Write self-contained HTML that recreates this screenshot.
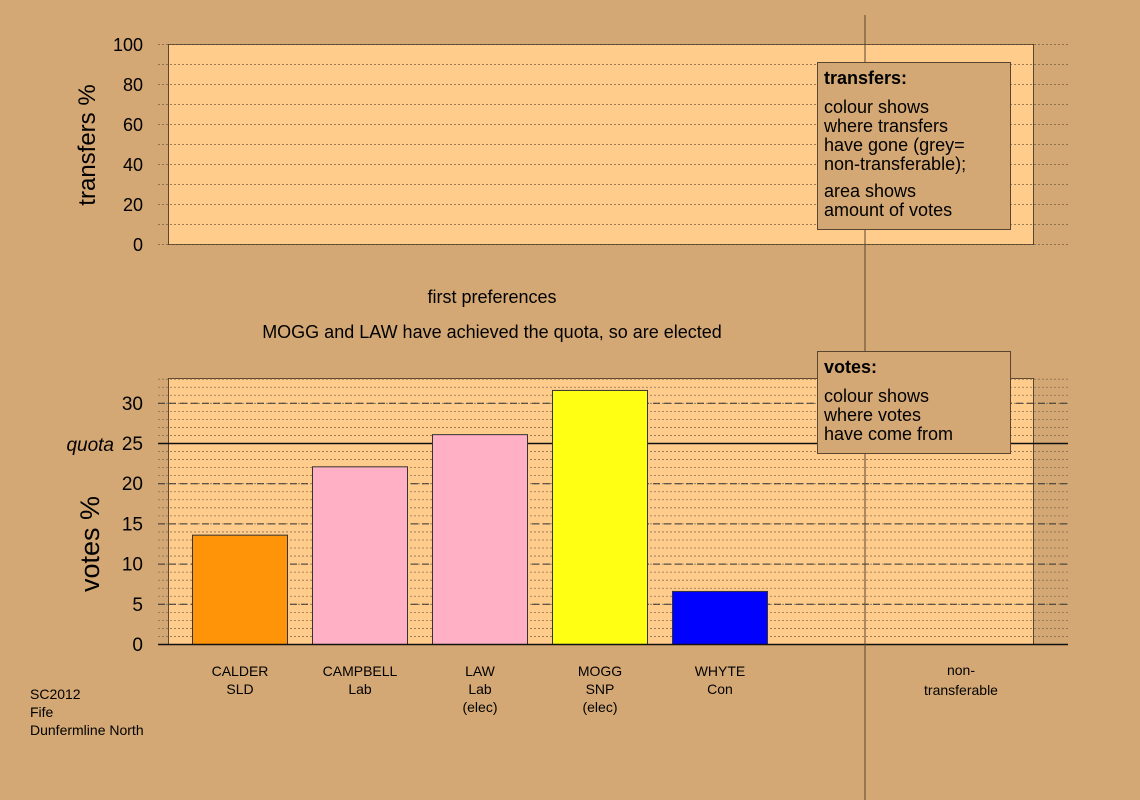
<!DOCTYPE html>
<html><head><meta charset="utf-8"><style>
body{margin:0;background:#d4a874;}
svg{display:block;font-family:"Liberation Sans",sans-serif;}
</style></head><body>
<svg width="1140" height="800" viewBox="0 0 1140 800">
<rect x="0" y="0" width="1140" height="800" fill="#d4a874"/>
<g id="topPanel"></g>
<g id="botPanel"></g>
<line x1="865" y1="15" x2="865" y2="800" stroke="#5a4630" stroke-width="1"/>
<g>
<rect x="817.5" y="62.5" width="193" height="167" fill="#d4a874" stroke="#5a4630"/>
<text x="824" y="84" font-size="18" font-weight="bold">transfers:</text>
<text font-size="18"><tspan x="824" y="113">colour shows</tspan><tspan x="824" y="132">where transfers</tspan><tspan x="824" y="151">have gone (grey=</tspan><tspan x="824" y="170">non-transferable);</tspan><tspan x="824" y="197">area shows</tspan><tspan x="824" y="216">amount of votes</tspan></text>
</g>
<g>
<rect x="817.5" y="351.5" width="193" height="102" fill="#d4a874" stroke="#5a4630"/>
<text x="824" y="373" font-size="18" font-weight="bold">votes:</text>
<text font-size="18"><tspan x="824" y="402">colour shows</tspan><tspan x="824" y="421">where votes</tspan><tspan x="824" y="440">have come from</tspan></text>
</g>
<text x="492" y="303" font-size="18" text-anchor="middle">first preferences</text>
<text x="492" y="338" font-size="18" text-anchor="middle">MOGG and LAW have achieved the quota, so are elected</text>
<text transform="translate(95,145) rotate(-90)" font-size="24" text-anchor="middle">transfers %</text>
<text transform="translate(99,544) rotate(-90)" font-size="27" text-anchor="middle">votes %</text>
<text x="114" y="451" font-size="19" font-style="italic" text-anchor="end">quota</text>
<text font-size="14"><tspan x="30" y="699">SC2012</tspan><tspan x="30" y="717">Fife</tspan><tspan x="30" y="735">Dunfermline North</tspan></text>
<text x="961" y="675" font-size="14" text-anchor="middle">non-</text>
<text x="961" y="695" font-size="14" text-anchor="middle">transferable</text>
</svg>
<script>
const names=["CALDER","CAMPBELL","LAW","MOGG","WHYTE"];
const parties=["SLD","Lab","Lab","SNP","Con"];
const notes=["","","(elec)","(elec)",""];
const votes=[13.6,22.1,26.1,31.6,6.6];
const colors=["#ff9408","#ffb0c4","#ffb0c4","#ffff14","#0000ff"];
const quota=25;
const voteTicks=[0,5,10,15,20,25,30];
const transferTicks=[0,20,40,60,80,100];
const NS="http://www.w3.org/2000/svg";
function mk(p,t,a){const e=document.createElementNS(NS,t);for(const k in a)e.setAttribute(k,a[k]);p.appendChild(e);return e;}
const topG=document.getElementById('topPanel');
const ty=v=>244-v*2;
mk(topG,'rect',{x:168.5,y:44.5,width:865,height:200,fill:"#ffcc8c",stroke:"#5a4630"});
for(let v=0;v<=100;v+=10){const l=mk(topG,'line',{x1:158,x2:1068,y1:ty(v)+.5,y2:ty(v)+.5,stroke:"#7a6040","stroke-dasharray":"2,2","stroke-width":0.8});

}
transferTicks.forEach(v=>{const t=mk(topG,'text',{x:143,y:ty(v)+7,"font-size":18,"text-anchor":"end"});t.textContent=v;

});
const botG=document.getElementById('botPanel');
const yS=v=>644-v*8.04;
mk(botG,'rect',{x:168.5,y:378.5,width:865,height:266,fill:"#ffcc8c",stroke:"#5a4630"});
for(let v=1;v<=33;v++){const l=mk(botG,'line',{x1:158,x2:1068,y1:yS(v)+.5,y2:yS(v)+.5,stroke:"#8a7050","stroke-dasharray":"2,2","stroke-width":0.8});

}
voteTicks.forEach(v=>{if(v>0&&v!==quota){const l=mk(botG,'line',{x1:158,x2:1068,y1:yS(v)+.5,y2:yS(v)+.5,stroke:"#333","stroke-dasharray":"7,4","stroke-width":1});

}
const t=mk(botG,'text',{x:143,y:yS(v)+7,"font-size":19,"text-anchor":"end"});t.textContent=v;

});
const q=mk(botG,'line',{x1:158,x2:1068,y1:yS(quota)+.5,y2:yS(quota)+.5,stroke:"#111","stroke-width":1.5});


votes.forEach((v,i)=>{const cx=240+i*120;
const b=mk(botG,'rect',{x:cx-47.5,y:yS(v)+.5,width:95,height:644-yS(v),fill:colors[i],stroke:"#333","stroke-width":1});


[names[i],parties[i],notes[i]].forEach((s,j)=>{if(!s)return;const t=mk(botG,'text',{x:cx,y:676+j*18,"font-size":14,"text-anchor":"middle"});t.textContent=s;

});});
const ax=mk(botG,'line',{x1:158,x2:1068,y1:644.5,y2:644.5,stroke:"#111","stroke-width":1.5});


</script>
</body></html>
